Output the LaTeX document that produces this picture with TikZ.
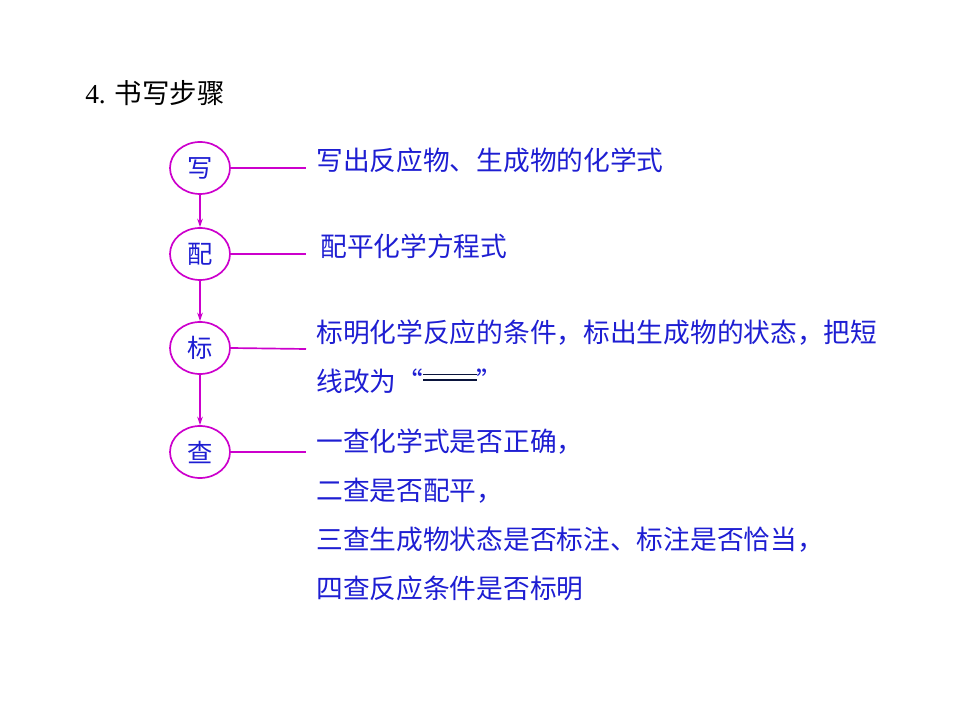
\documentclass[tikz,border=0pt]{standalone}
\usepackage{fontspec}
\setmainfont{Liberation Serif}
\newfontfamily\cjk{Noto Sans CJK SC}
\usepackage{tikz}
\usetikzlibrary{arrows.meta, positioning, shapes.geometric}
\definecolor{stepmag}{RGB}{204,0,204}
\definecolor{stepblue}{RGB}{30,30,210}
\definecolor{eqnavy}{RGB}{10,20,60}
\newcommand{\eqsign}{\textcolor{eqnavy}{\rlap{\rule[0.40em]{38pt}{0.8pt}}\rule[0.62em]{38pt}{0.8pt}}}

\begin{document}
\begin{tikzpicture}[
    x=0.025cm, y=-0.025cm,
    stepnode/.style={ellipse,draw=stepmag,line width=1.2pt,minimum width=1.5cm,
      minimum height=1.3cm,inner sep=0pt,text=stepblue,
      font=\cjk\fontsize{18}{20}\selectfont},
    desc/.style={anchor=west,inner sep=0pt,text=stepblue,
      font=\cjk\fontsize{19}{22}\selectfont},
    link/.style={stepmag,line width=1.2pt},
    arrow/.style={-{Stealth[length=6pt,width=4pt]},stepmag,line width=1.2pt}
  ]
  \useasboundingbox (0,0) rectangle (960,720);

  % title
  \node[anchor=west,inner sep=0pt,font=\fontsize{19.5}{22}\selectfont] (title) at (85,93)
    {4. {\cjk 书写步骤}};

  % steps
  \node[stepnode] (xie) at (200,168) {写};
  \node[stepnode] (pei) at (200,254) {配};
  \node[stepnode] (biao) at (200,348) {标};
  \node[stepnode] (cha) at (200,452) {查};

  \draw[arrow] (xie) -- (pei);
  \draw[arrow] (pei) -- (biao);
  \draw[arrow] (biao) -- (cha);

  % leader lines
  \coordinate (xieEnd) at (306,168);
  \coordinate (peiEnd) at (306,254);
  \coordinate (biaoEnd) at (306,349);
  \coordinate (chaEnd) at (306,452);
  \draw[link] (xie.east) -- (xieEnd);
  \draw[link] (pei.east) -- (peiEnd);
  \draw[link] (biao.east) -- (biaoEnd);
  \draw[link] (cha.east) -- (chaEnd);

  % descriptions
  \node[desc] (xieText) at (316,160) {写出反应物、生成物的化学式};
  \node[desc] (peiText) at (320,246) {配平化学方程式};
  \node[desc] (biaoTextA) at (316,333) {标明化学反应的条件，标出生成物的状态，把短};
  \node[desc] (biaoTextB) at (316,381) {线改为“\eqsign”};
  \node[desc] (chaTextA) at (316,442) {一查化学式是否正确，};
  \node[desc] (chaTextB) at (316,491) {二查是否配平，};
  \node[desc] (chaTextC) at (316,540) {三查生成物状态是否标注、标注是否恰当，};
  \node[desc] (chaTextD) at (316,588) {四查反应条件是否标明};
\end{tikzpicture}
\end{document}
